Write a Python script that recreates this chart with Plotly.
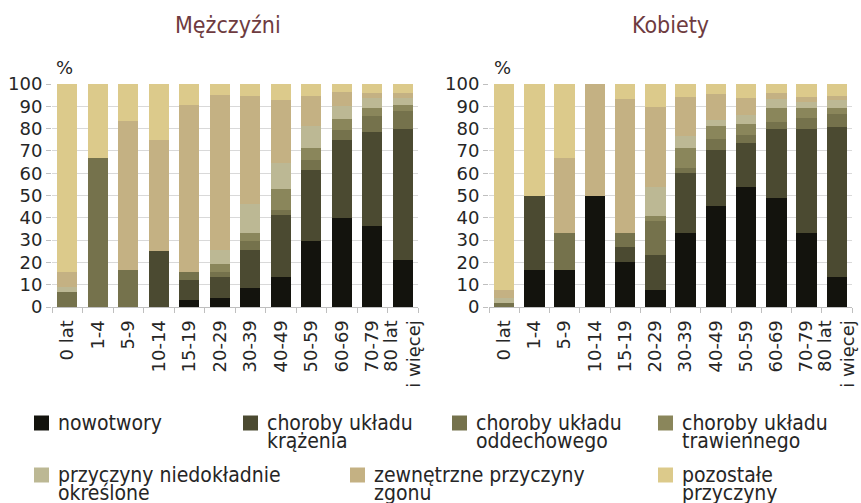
import plotly.graph_objects as go
from plotly.subplots import make_subplots

categories = ["0 lat", "1-4", "5-9", "10-14", "15-19", "20-29", "30-39",
              "40-49", "50-59", "60-69", "70-79", "80 lat<br>i więcej"]

series_names = ["nowotwory", "choroby układu krążenia", "choroby układu oddechowego",
                "choroby układu trawiennego", "przyczyny niedokładnie określone",
                "zewnętrzne przyczyny zgonu", "pozostałe przyczyny"]
legend_lines = [["nowotwory"], ["choroby układu", "krążenia"], ["choroby układu", "oddechowego"],
                ["choroby układu", "trawiennego"], ["przyczyny niedokładnie", "określone"],
                ["zewnętrzne przyczyny", "zgonu"], ["pozostałe", "przyczyny"]]

colors = ["#13130d", "#4b4a31", "#75724c", "#8a865b", "#bcb894", "#c4b183", "#dcca8b"]

# Men (Mężczyźni), %
men_nowotwory   = [0, 0, 0, 0, 3.3, 4.2, 8.7, 13.6, 29.7, 40.0, 36.4, 21.2]
men_krazenia    = [0, 0, 0, 25.0, 8.9, 9.1, 16.7, 27.7, 31.8, 34.9, 42.1, 58.7]
men_oddech      = [6.6, 66.7, 16.7, 0, 3.3, 2.4, 4.0, 2.3, 4.2, 4.5, 7.2, 8.0]
men_trawienne   = [0, 0, 0, 0, 0, 3.4, 3.6, 9.5, 5.6, 4.9, 3.6, 2.7]
men_niedokl     = [2.4, 0, 0, 0, 0, 6.3, 13.3, 11.5, 9.9, 6.0, 4.4, 3.1]
men_zewnetrzne  = [6.5, 0, 66.6, 50.0, 75.0, 69.7, 48.5, 28.2, 13.6, 6.1, 2.3, 2.3]
men_pozostale   = [84.5, 33.3, 16.7, 25.0, 9.5, 4.9, 5.2, 7.2, 5.2, 3.6, 4.0, 4.0]

# Women (Kobiety), %
women_nowotwory  = [0, 16.7, 16.7, 50.0, 20.0, 7.5, 33.0, 45.1, 53.6, 49.1, 33.0, 13.6]
women_krazenia   = [0, 33.3, 0, 0, 6.7, 15.6, 26.9, 25.5, 20.1, 30.5, 46.9, 67.3]
women_oddech     = [1.9, 0, 16.6, 0, 6.6, 15.3, 2.6, 4.8, 3.5, 3.5, 4.9, 5.7]
women_trawienne  = [0, 0, 0, 0, 0, 2.6, 9.0, 5.8, 5.0, 6.2, 4.5, 2.7]
women_niedokl    = [2.0, 0, 0, 0, 0, 12.6, 5.2, 2.7, 3.9, 4.0, 2.8, 3.5]
women_zewnetrzne = [3.9, 0, 33.3, 50.0, 60.0, 36.1, 17.6, 11.8, 7.8, 2.8, 2.2, 2.0]
women_pozostale  = [92.2, 50.0, 33.4, 0, 6.7, 10.3, 5.7, 4.3, 6.1, 3.9, 5.7, 5.2]

men = [men_nowotwory, men_krazenia, men_oddech, men_trawienne, men_niedokl, men_zewnetrzne, men_pozostale]
women = [women_nowotwory, women_krazenia, women_oddech, women_trawienne, women_niedokl, women_zewnetrzne, women_pozostale]

y_ticks = list(range(0, 101, 10))

fig = make_subplots(rows=1, cols=2)

for i, name in enumerate(series_names):
    fig.add_trace(go.Bar(x=categories, y=men[i], name=name, marker_color=colors[i],
                         marker_line_width=0, showlegend=False), row=1, col=1)
    fig.add_trace(go.Bar(x=categories, y=women[i], name=name, marker_color=colors[i],
                         marker_line_width=0, showlegend=False), row=1, col=2)

W, H = 861, 503
tick_font = dict(family="DejaVu Sans", size=18, color="#262626")
label_family = "DejaVu Sans Condensed"

axis_common_y = dict(range=[0, 100], tickvals=y_ticks, showgrid=True, gridcolor="#d9d9d9",
                     gridwidth=1, ticks="outside", ticklen=5, tickcolor="#bfbfbf",
                     showline=False, zeroline=False, tickfont=tick_font, fixedrange=True,
                     automargin=False)
axis_common_x = dict(tickangle=-90, showline=True, linecolor="#bfbfbf", ticks="outside",
                     tickson="boundaries", ticklen=5, tickcolor="#bfbfbf", tickfont=tick_font,
                     showgrid=False, automargin=False, ticklabelstandoff=5)

# custom legend (Excel-like layout: 4 entries in first row, 3 in second)
legend_pos = [(34, 423), (243, 423), (452, 423), (658, 423),
              (34, 475), (350, 475), (658, 475)]
shapes = []
annotations = []
for i, (lx, ly) in enumerate(legend_pos):
    shapes.append(dict(type="rect", xref="paper", yref="paper",
                       x0=lx / W, x1=(lx + 15) / W, y0=1 - (ly + 7.5) / H, y1=1 - (ly - 7.5) / H,
                       fillcolor=colors[i], line_width=0))
    for j, line in enumerate(legend_lines[i]):
        annotations.append(dict(text=line, x=(lx + 22) / W, y=1 - (ly + 18 * j) / H,
                                xref="paper", yref="paper", xanchor="left", yanchor="middle",
                                showarrow=False,
                                font=dict(family=label_family, size=21, color="#262626")))

annotations += [
    dict(text="Mężczyźni", x=228 / W, y=1 - 25 / H, xref="paper", yref="paper",
         xanchor="center", yanchor="middle", showarrow=False,
         font=dict(family=label_family, size=23, color="#6e3b40")),
    dict(text="Kobiety", x=670 / W, y=1 - 25 / H, xref="paper", yref="paper",
         xanchor="center", yanchor="middle", showarrow=False,
         font=dict(family=label_family, size=23, color="#6e3b40")),
    dict(text="%", x=64 / W, y=1 - 67 / H, xref="paper", yref="paper",
         xanchor="center", yanchor="middle", showarrow=False,
         font=dict(family="DejaVu Sans", size=18, color="#262626")),
    dict(text="%", x=502 / W, y=1 - 67 / H, xref="paper", yref="paper",
         xanchor="center", yanchor="middle", showarrow=False,
         font=dict(family="DejaVu Sans", size=18, color="#262626")),
]

fig.update_layout(
    width=W, height=H,
    margin=dict(l=0, r=0, t=0, b=0, autoexpand=False),
    paper_bgcolor="white", plot_bgcolor="white",
    barmode="stack", bargap=0.33, showlegend=False,
    xaxis=dict(domain=[52 / W, 418 / W], **axis_common_x),
    xaxis2=dict(domain=[489 / W, 852 / W], **axis_common_x),
    yaxis=dict(domain=[1 - 307 / H, 1 - 84 / H], **axis_common_y),
    yaxis2=dict(domain=[1 - 307 / H, 1 - 84 / H], **axis_common_y),
    font=dict(family="DejaVu Sans", color="#262626"),
    shapes=shapes,
    annotations=annotations,
)

fig.write_html("out.html", config={"displayModeBar": False},
               post_script="document.body.style.margin='0px';document.body.style.overflow='hidden';")
